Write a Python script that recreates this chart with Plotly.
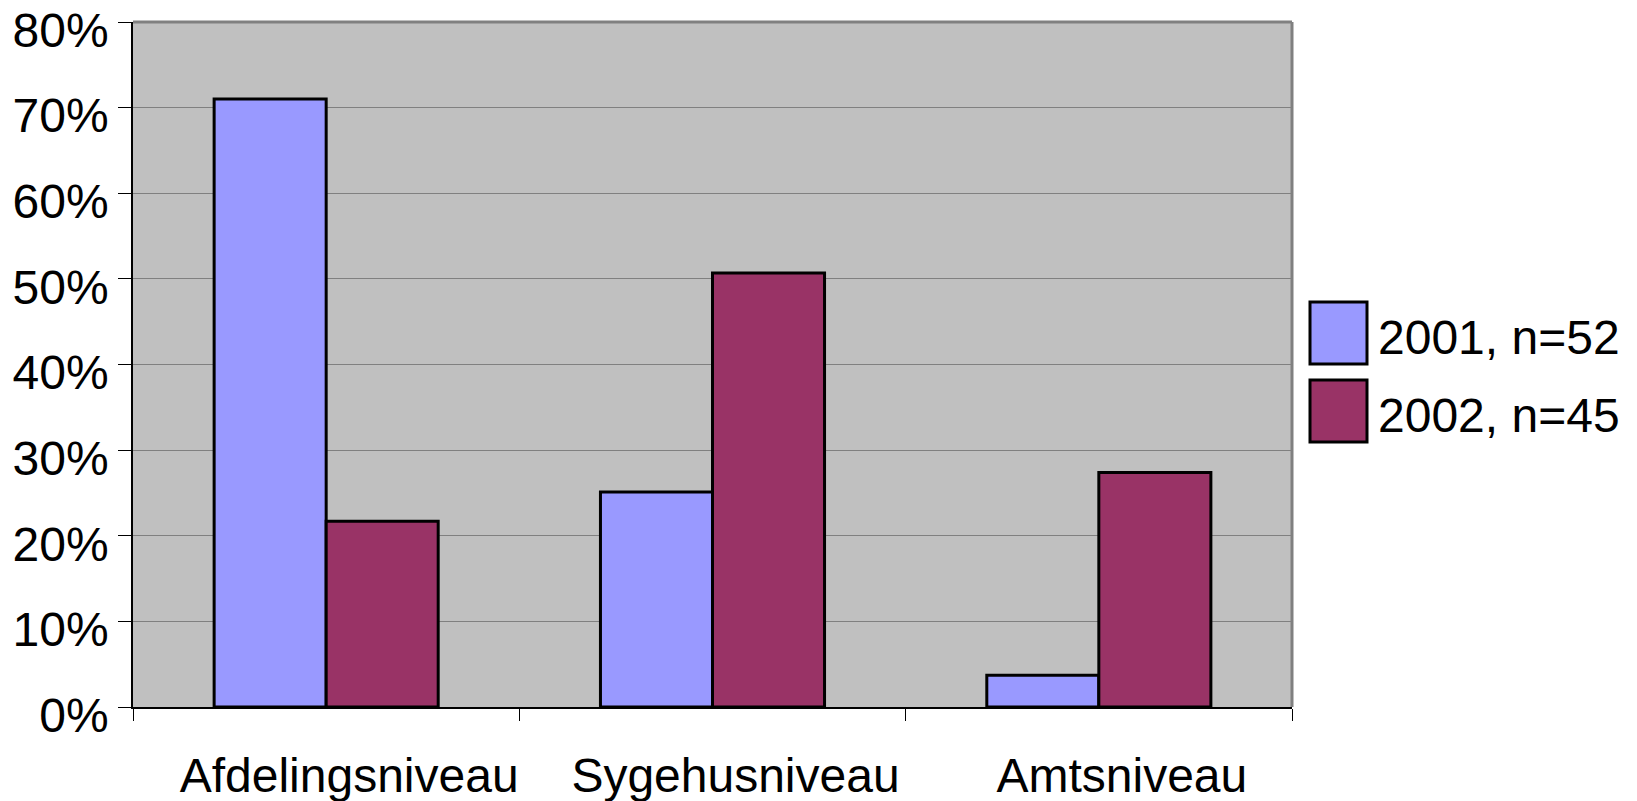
import plotly.graph_objects as go

categories = ["Afdelingsniveau", "Sygehusniveau", "Amtsniveau"]
series_names = ["2001, n=52", "2002, n=45"]
values_2001 = [0.710, 0.251, 0.037]
values_2002 = [0.217, 0.507, 0.274]
series_colors = ["#9999FF", "#993366"]
y_ticks = [0, 0.1, 0.2, 0.3, 0.4, 0.5, 0.6, 0.7, 0.8]

W, H = 1637, 801
L, R, T, B = 133, 345, 22, 94
PW, PH = W - L - R, H - T - B

FONT = "Liberation Sans, Arial, sans-serif"
FS = 48

fig = go.Figure()
for name, vals, col in zip(series_names, [values_2001, values_2002], series_colors):
    fig.add_trace(go.Bar(
        x=categories, y=vals, name=name,
        marker=dict(color=col, line=dict(color="black", width=3)),
        showlegend=False,
    ))

def px_x(px):
    return (px - L) / PW

def px_y(py):
    return (H - B - py) / PH

shapes = [
    dict(type="line", xref="paper", yref="paper", x0=0, x1=1, y0=1, y1=1,
         line=dict(color="#808080", width=3)),
    dict(type="line", xref="paper", yref="paper", x0=1, x1=1, y0=0, y1=1,
         line=dict(color="#808080", width=3)),
]
annotations = []
# custom legend with large swatches
box_tops = [302, 380]
for i, (name, col) in enumerate(zip(series_names, series_colors)):
    top = box_tops[i]
    bot = top + 62
    shapes.append(dict(type="rect", xref="paper", yref="paper",
                       x0=px_x(1310), x1=px_x(1367), y0=px_y(bot), y1=px_y(top),
                       fillcolor=col, line=dict(color="black", width=3)))
    annotations.append(dict(xref="paper", yref="paper", x=px_x(1376),
                            y=px_y((top + bot) / 2 + 4), xanchor="left", yanchor="middle",
                            text=name, showarrow=False,
                            font=dict(family=FONT, size=FS, color="black")))

fig.update_layout(
    template="none",
    width=W, height=H,
    margin=dict(l=L, r=R, t=T, b=B, pad=0),
    paper_bgcolor="white",
    plot_bgcolor="#C0C0C0",
    barmode="group",
    bargap=0.42,
    bargroupgap=0,
    font=dict(family=FONT, size=FS, color="black"),
    shapes=shapes,
    annotations=annotations,
    xaxis=dict(
        type="category",
        automargin=False,
        tickson="boundaries",
        ticks="outside", ticklen=12, tickcolor="black", tickwidth=1,
        showline=True, linecolor="black", linewidth=1.5,
        showgrid=False,
        tickfont=dict(family=FONT, size=FS, color="black"),
        ticklabelstandoff=26,
        ticklabelshift=23,
        ticklabeloverflow="allow",
    ),
    yaxis=dict(
        range=[0, 0.8],
        automargin=False,
        tickvals=y_ticks,
        tickformat=".0%",
        ticks="outside", ticklen=13, tickcolor="black", tickwidth=1,
        showline=True, linecolor="black", linewidth=1.5,
        showgrid=True, gridcolor="#808080", gridwidth=1,
        zeroline=False,
        tickfont=dict(family=FONT, size=FS, color="black"),
        ticklabelstandoff=0,
        ticklabelshift=8,
        ticklabeloverflow="allow",
    ),
)

fig.write_html("out.html", config={"displayModeBar": False},
               post_script="document.body.style.margin='0';document.body.style.overflow='hidden';")
